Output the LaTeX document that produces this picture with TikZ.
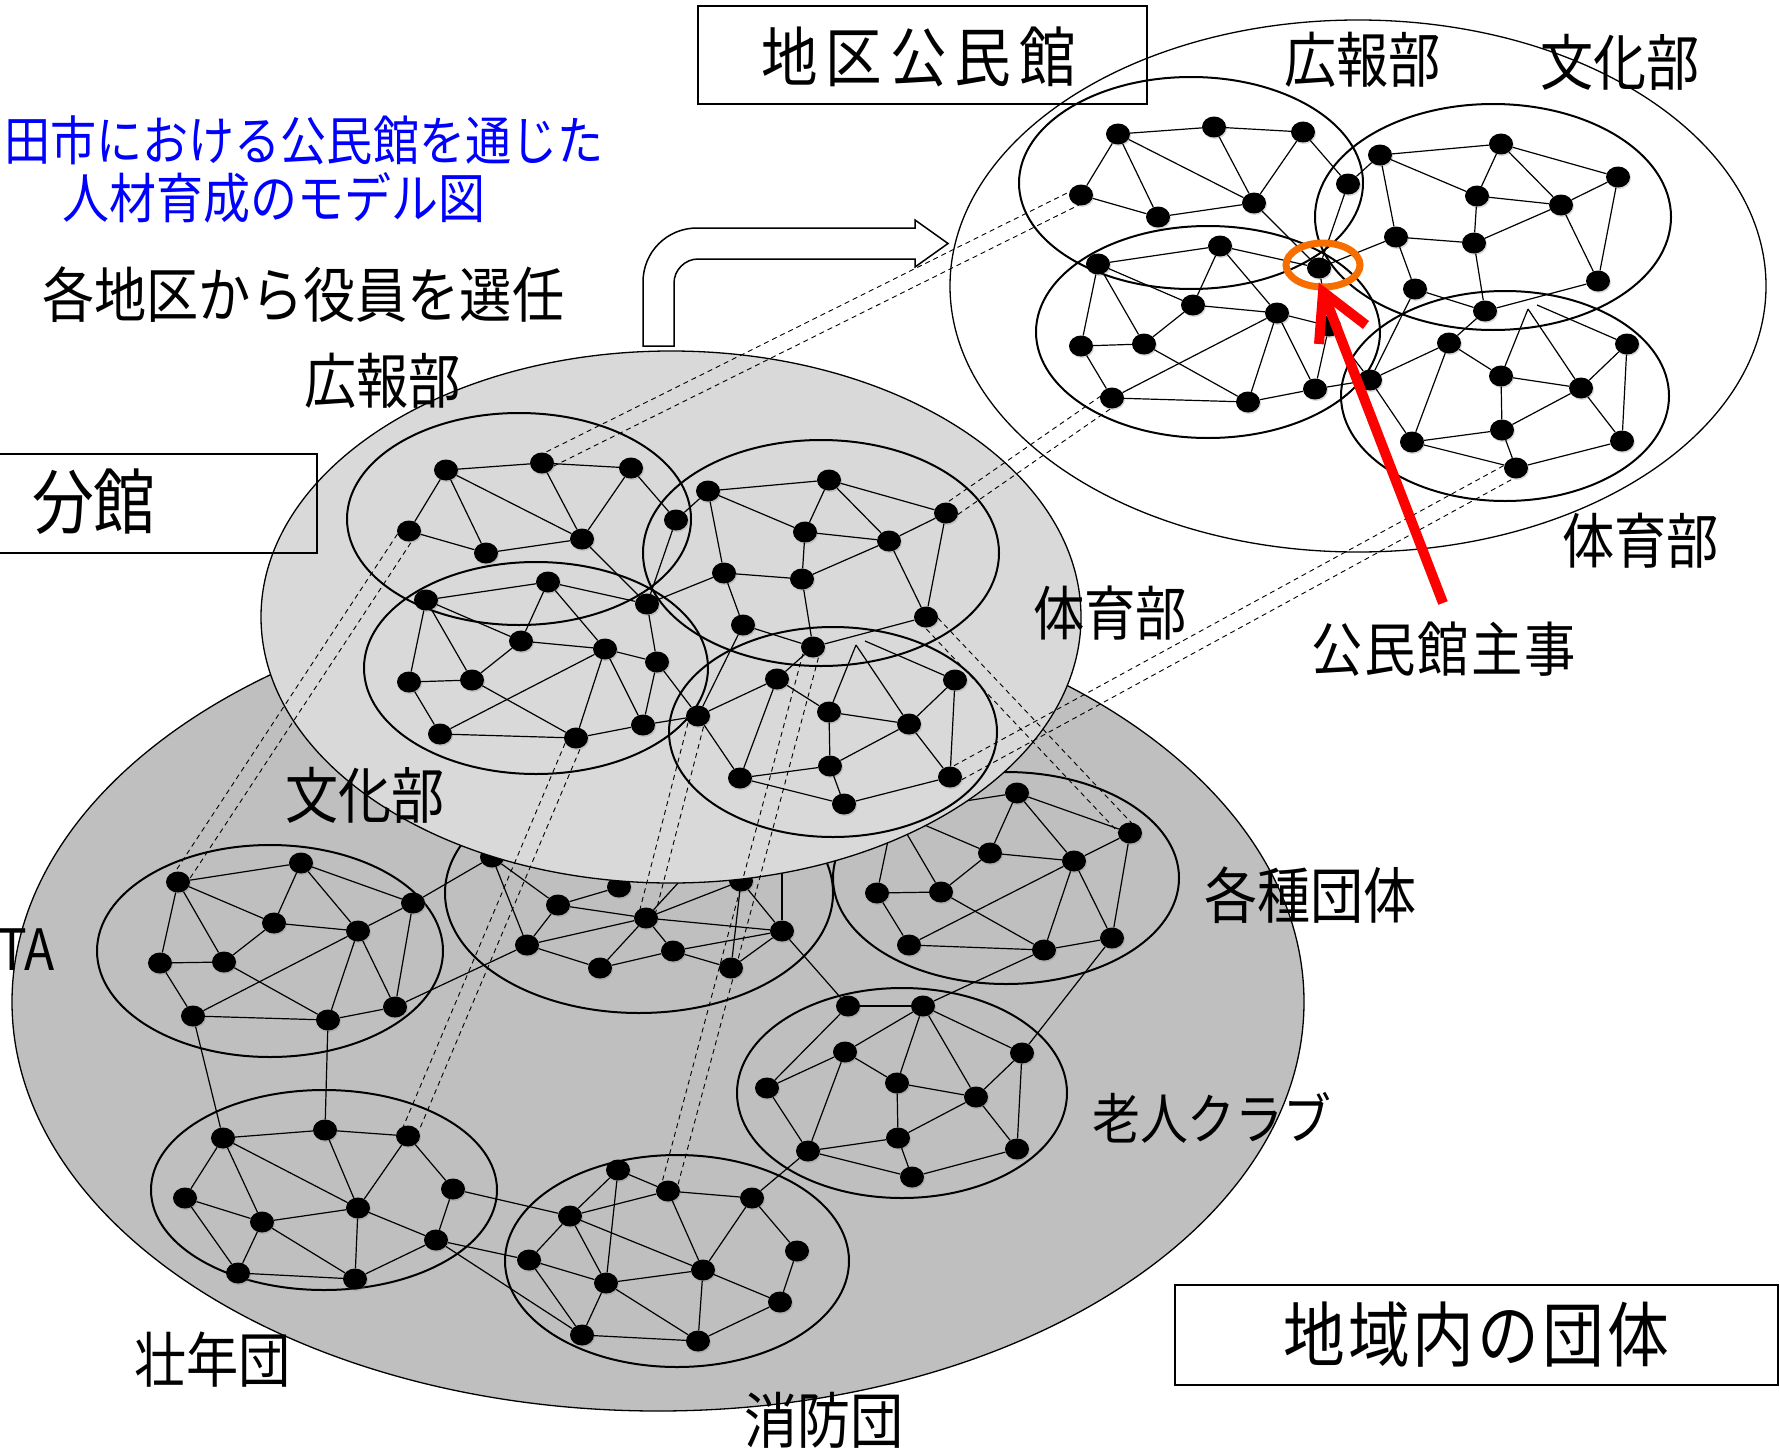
\documentclass[tikz,border=0pt]{standalone}
\usepackage{fontspec}
\newfontfamily\jp{Noto Sans CJK JP}
\usetikzlibrary{shapes.geometric,shadows,calc}
\definecolor{dgray}{RGB}{191,191,191}
\definecolor{lgray}{RGB}{217,217,217}
\definecolor{orng}{RGB}{247,110,0}
\tikzset{
 nd/.style={ellipse, fill=black, minimum width=24pt, minimum height=21pt, inner sep=0pt, drop shadow={opacity=0.3,shadow xshift=1pt,shadow yshift=-1.5pt}},
 ln/.style={line width=1.2pt},
 clu/.style={line width=2pt},
 big/.style={line width=1.3pt},
 dsh/.style={line width=0.9pt, dash pattern=on 5pt off 4pt},
 lab/.style={anchor=west, inner sep=0pt, font=\jp},
}
\newcommand\fs[2]{\fontsize{#1}{#1}\selectfont\addfontfeature{LetterSpace=#2}}
\newcommand\tx[3]{\scalebox{0.87}[1]{\fs{#1}{#2}#3}}
\newcommand\grp{%
 \draw[clu] (519,519) ellipse [x radius=172pt, y radius=106pt];
 \draw[clu] (821,553) ellipse [x radius=178pt, y radius=113pt];
 \draw[clu] (536,668) ellipse [x radius=172pt, y radius=106pt];
 \draw[clu] (833,732) ellipse [x radius=164pt, y radius=105pt];
 \foreach \n/\x/\y in {a1/446/470, a2/542/463, a3/631/468, a4/409/531, a5/486/553, a6/582/539, a7/676/520,
   b1/708/491, b2/829/480, b3/946/513, b4/805/532, b5/889/541, b6/724/573, b7/802/579, b8/926/617, b9/743/625, b10/813/647,
   cA/426/600, cB/548/582, cC/647/604, cD/521/641, cE/605/649, cK/657/662, cF/409/682, cG/472/680, cH/440/734, cI/576/738, cJ/643/725,
   d1/777/679, d2/955/680, d3/829/712, d4/909/724, d5/698/716, d6/740/778, d7/830/766, d8/950/777, d9/844/804}
   \node[nd] (\n) at (\x,\y) {};
 \coordinate (apA) at (856,645);
 \coordinate (apB) at (865,641);
 \foreach \u/\v in {a1/a2, a2/a3, a1/a4, a1/a5, a1/a6, a2/a6, a3/a6, a4/a5, a5/a6, a3/a7, a6/cC, a7/cC, a7/b1,
   b1/b2, b2/b3, b1/b4, b2/b4, b2/b5, b4/b5, b3/b5, b3/b8, b5/b8, b4/b7, b5/b7, b6/b7, b1/b6, b6/b9, b7/b10, b9/b10, b10/b8, b6/cC, b9/d5, b10/d1,
   cA/cB, cB/cC, cA/cD, cA/cG, cA/cF, cB/cD, cB/cE, cD/cE, cD/cG, cF/cG, cF/cH, cG/cI, cH/cE, cE/cI, cE/cJ, cE/cK, cC/cK, cK/cJ, cI/cJ, cH/cI, cJ/d5, cK/d5,
   d1/d3, d3/d4, d3/apA, apA/d4, apB/d2, d1/d6, d1/d5, d5/d6, d3/d7, d4/d7, d4/d8, d2/d4, d2/d8, d6/d7, d7/d9, d6/d9, d8/d9}
   \draw[ln] (\u) -- (\v);
}
\newcommand\dpair[2]{%
 \draw[dsh] ($(#1)!8pt!90:(#2)$) -- ($(#2)!8pt!-90:(#1)$);
 \draw[dsh] ($(#1)!8pt!-90:(#2)$) -- ($(#2)!8pt!90:(#1)$);
}
\begin{document}
\begin{tikzpicture}[x=1pt,y=-1pt]
\useasboundingbox (0,0) rectangle (1780,1453);
\fill[white] (0,0) rectangle (1780,1453);

% ---------- regional groups (dark ellipse) ----------
\draw[big, fill=dgray] (658,1002) ellipse [x radius=646pt, y radius=409pt];
\draw[clu] (270,951) ellipse [x radius=173pt, y radius=106pt];
\draw[clu] (324,1190) ellipse [x radius=173pt, y radius=100pt];
\draw[clu] (677,1261) ellipse [x radius=172pt, y radius=106pt];
\draw[clu] (902,1093) ellipse [x radius=165pt, y radius=105pt];
\draw[clu] (1006,878) ellipse [x radius=173pt, y radius=106pt];
\draw[clu] (639,893) ellipse [x radius=194pt, y radius=120pt];
\foreach \n/\x/\y in {pA/178/882, pB/301/863, pC/413/903, pD/274/923, pE/358/931, pF/160/963, pG/224/962, pH/193/1016, pI/328/1020, pJ/395/1007,
  sA/223/1138, sB/325/1130, sC/408/1136, sD/185/1198, sE/262/1222, sF/358/1208, sG/453/1189, sH/436/1240, sI/238/1273, sJ/355/1279,
  fa/618/1170, fb/668/1191, fc/752/1198, fd/570/1216, fe/797/1251, ff/529/1260, fg/606/1283, fh/703/1270, fi/780/1302, fj/582/1335, fk/698/1341,
  o1/848/1006, o2/923/1006, o3/845/1052, o4/1022/1053, o5/767/1088, o6/897/1083, o7/976/1097, o8/808/1151, o9/898/1138, o10/1017/1149, o11/912/1177,
  kA/894/812, kB/1017/793, kC/1130/833, kD/990/853, kE/1074/861, kF/877/893, kG/941/892, kH/909/945, kI/1044/950, kJ/1112/938,
  m1/492/857, m2/558/905, m3/619/887, m4/646/918, m5/527/945, m6/600/968, m7/673/951, m8/731/968, m9/782/931, m10/690/870, m11/741/881, m12/782/852}
  \node[nd] (\n) at (\x,\y) {};
\foreach \u/\v in {pA/pB, pB/pC, pA/pD, pA/pG, pA/pF, pB/pD, pB/pE, pD/pE, pD/pG, pF/pG, pF/pH, pG/pI, pH/pE, pE/pI, pE/pJ, pC/pE, pC/pJ, pI/pJ, pH/pI, pC/m1, pJ/m5, pH/sA, pI/sB,
  sA/sB, sB/sC, sA/sD, sA/sE, sA/sF, sB/sF, sC/sF, sC/sG, sD/sE, sE/sF, sD/sI, sE/sI, sE/sJ, sF/sJ, sF/sH, sG/sH, sH/sJ, sI/sJ, sG/fd, sH/ff, sH/fj,
  fa/fb, fb/fc, fa/fd, fa/fg, fd/fb, fd/ff, fd/fg, fd/fh, fb/fh, fc/fh, fc/fe, ff/fg, ff/fj, fg/fj, fg/fh, fg/fk, fh/fk, fh/fi, fe/fi, fi/fk, fj/fk,
  o1/o2, o2/o3, o2/o4, o2/o6, o2/o7, o1/o5, o3/o5, o3/o6, o3/o8, o5/o8, o6/o7, o6/o9, o7/o4, o7/o9, o7/o10, o4/o10, o8/o9, o8/o11, o9/o11, o11/o10, o1/m9, o2/kI, o4/kJ, o8/fc,
  kA/kB, kB/kC, kA/kD, kA/kG, kA/kF, kB/kD, kB/kE, kD/kE, kD/kG, kF/kG, kF/kH, kG/kI, kH/kE, kE/kI, kE/kJ, kC/kE, kC/kJ, kI/kJ, kH/kI,
  m1/m2, m1/m5, m2/m3, m2/m5, m2/m4, m5/m4, m5/m6, m6/m4, m6/m7, m4/m7, m7/m8, m4/m9, m4/m10, m4/m11, m11/m8, m11/m9, m9/m12, m7/m9, m8/m9}
  \draw[ln] (\u) -- (\v);

% ---------- branch hall ----------
\draw[big, fill=lgray] (671,617) ellipse [x radius=410pt, y radius=266pt];
\begin{scope}[name prefix=b-]
 \grp
\end{scope}

% ---------- district hall ----------
\draw[big, fill=white] (1358,286) ellipse [x radius=408pt, y radius=266pt];
\begin{scope}[shift={(672,-336)}, name prefix=k-]
 \grp
\end{scope}

% ---------- dashed links ----------
\dpair{b-a2}{k-a4}
\dpair{b-a4}{pA}
\dpair{b-b3}{k-cH}
\dpair{b-d8}{k-d9}
\dpair{b-b8}{kC}
\dpair{b-cI}{sC}
\dpair{b-d5}{m4}
\dpair{b-b10}{fb}

% ---------- bent block arrow ----------
\draw[line width=1.5pt, fill=white, line join=miter] (643,346) -- (643,282) .. controls (643,252) and (667,228) .. (697,228) -- (915,228) -- (915,220) -- (948,243.5) -- (915,267) -- (915,259) -- (698,259) .. controls (685,259) and (674,270) .. (674,283) -- (674,346) -- cycle;

% ---------- hub ring and red arrow ----------
\draw[orng, line width=7pt] (1323,265) ellipse [x radius=37pt, y radius=22pt];
\coordinate (rt) at (1443,603);
\coordinate (rh) at (1323,292);
\coordinate (rb1) at (1319,344);
\coordinate (rb2) at (1366,325);
\draw[red, line width=10pt] (rt) -- (rh);
\draw[red, line width=10pt, line join=miter] (rb1) -- (rh) -- (rb2);

% ---------- boxes ----------
\draw[line width=1.5pt] (698,6) rectangle (1147,104);
\draw[line width=1.5pt] (-2,454) rectangle (317,553);
\draw[line width=1.5pt] (1175,1285) rectangle (1778,1385);

% ---------- texts ----------
\node[lab] (tchiku) at (761,57) {\tx{65}{14}{地区公民館}};
\node[lab, text=blue] (tblue1) at (4,140) {\tx{53}{0}{田市における公民館を通じた}};
\node[lab, text=blue] (tblue2) at (62,198) {\tx{54}{0}{人材育成のモデル図}};
\node[lab] (tsennin) at (42,295) {\tx{60}{0}{各地区から役員を選任}};
\node[lab] (tkouhou1) at (304,381) {\tx{60}{0}{広報部}};
\node[lab] (tbunkan) at (32,502) {\tx{71}{0}{分館}};
\node[lab] (ttaiiku1) at (1033,613) {\tx{59}{0}{体育部}};
\node[lab] (tbunka1) at (285,795) {\tx{61}{0}{文化部}};
\node[lab] (tkouhou2) at (1284,60) {\tx{60}{0}{広報部}};
\node[lab] (tbunka2) at (1540,62) {\tx{61}{0}{文化部}};
\node[lab] (ttaiiku2) at (1562,541) {\tx{60}{0}{体育部}};
\node[lab] (tshuji) at (1311,649) {\tx{59}{4}{公民館主事}};
\node[lab, anchor=east] (tta) at (55,950) {\tx{57}{0}{TA}};
\node[lab] (tkakushu) at (1204,895) {\tx{61}{0}{各種団体}};
\node[lab] (troujin) at (1092,1118) {\tx{55}{0}{老人クラブ}};
\node[lab] (tsounen) at (134,1360) {\tx{60}{0}{壮年団}};
\node[lab] (tshoubou) at (744,1420) {\tx{61}{0}{消防団}};
\node[lab] (tchiiki) at (1283,1335) {\tx{71}{5}{地域内の団体}};
\end{tikzpicture}
\end{document}
